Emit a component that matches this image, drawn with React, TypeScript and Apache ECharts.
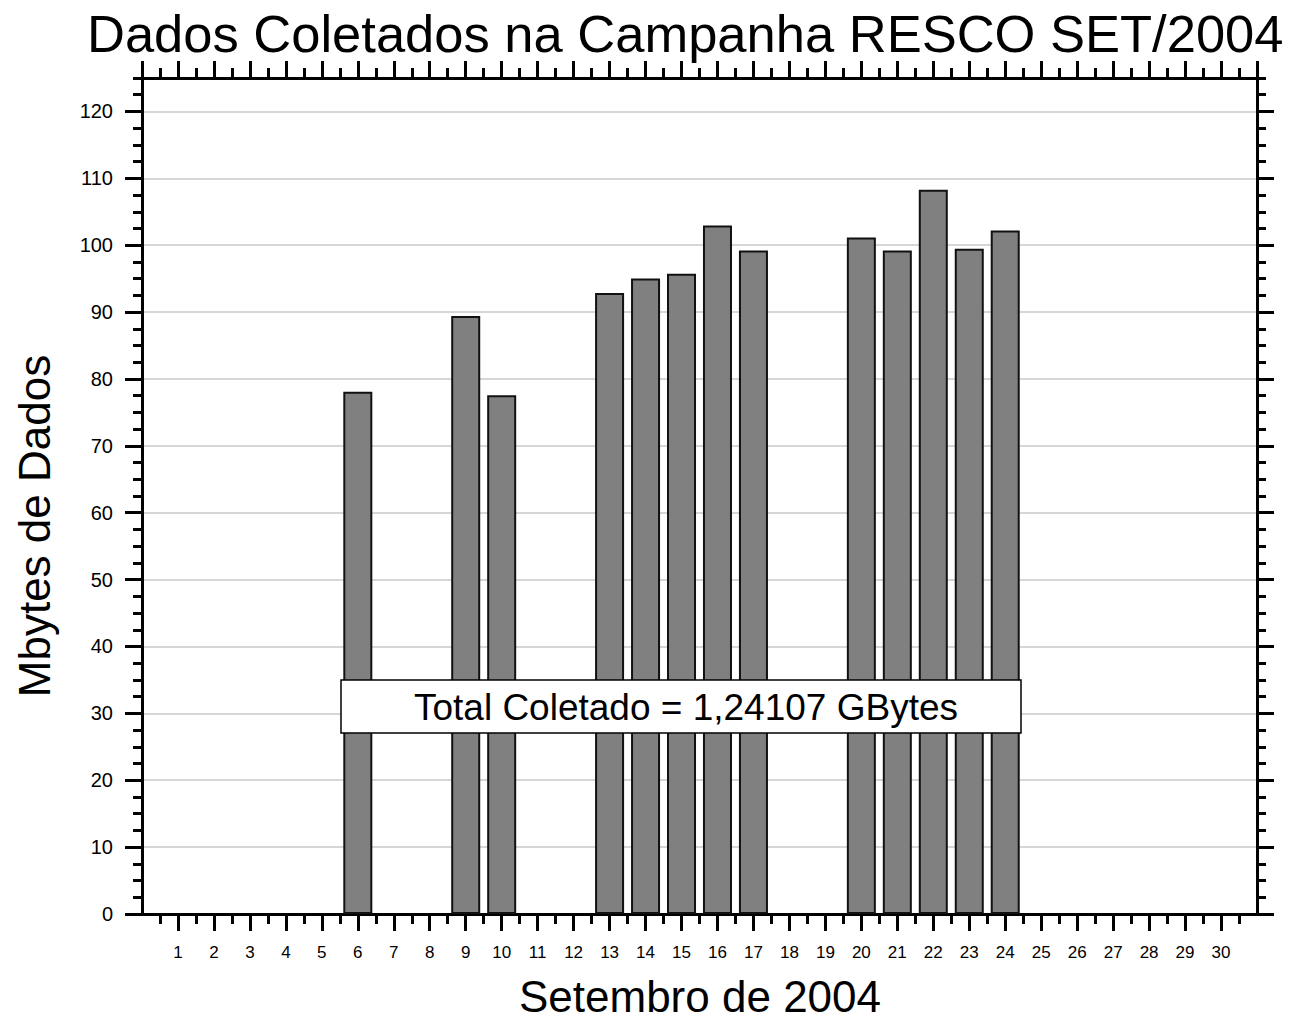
import React, { useEffect, useRef } from "react";
import * as echarts from "echarts";

const days: number[] = [6, 9, 10, 13, 14, 15, 16, 17, 20, 21, 22, 23, 24];
const mbytes: number[] = [78.1, 89.4, 77.55, 92.84, 95.03, 95.73, 102.94, 99.2, 101.14, 99.2, 108.3, 99.47, 102.18];
const xTickLabels: number[] = [1, 2, 3, 4, 5, 6, 7, 8, 9, 10, 11, 12, 13, 14, 15, 16, 17, 18, 19, 20, 21, 22, 23, 24, 25, 26, 27, 28, 29, 30];
const yTickLabels: number[] = [0, 10, 20, 30, 40, 50, 60, 70, 80, 90, 100, 110, 120];

const titleText = "Dados Coletados na Campanha RESCO SET/2004";
const xName = "Setembro de 2004";
const yName = "Mbytes de Dados";
const boxText = "Total Coletado = 1,24107 GBytes";

const FONT = "'Liberation Sans', Arial, Helvetica, sans-serif";

export default function App() {
  const ref = useRef<HTMLDivElement>(null);
  useEffect(() => {
    document.body.style.margin = "0";
    if (!ref.current) return;
    const chart = echarts.init(ref.current, undefined, { renderer: "svg" });

    const X_MIN = 0, X_MAX = 31, Y_MIN = 0, Y_MAX = 125;
    const xMinor: number[] = [];
    for (let i = 0; i < 31; i++) xMinor.push(i + 0.5);
    const topMajor: number[] = [];
    for (let i = 0; i <= 31; i++) topMajor.push(i);
    const yMinor: number[] = [];
    for (let i = 0; i <= 50; i++) yMinor.push(i * 2.5);

    const lineStyle = { color: "#000", width: 3 };
    const baseX = (extra: any) => ({
      type: "value",
      min: X_MIN,
      max: X_MAX,
      splitLine: { show: false },
      ...extra,
    });
    const baseY = (extra: any) => ({
      type: "value",
      min: Y_MIN,
      max: Y_MAX,
      splitLine: { show: false },
      ...extra,
    });

    const option: any = {
      animation: false,
      backgroundColor: "#fff",
      textStyle: { fontFamily: FONT },
      grid: { left: 142, right: 32, top: 78, bottom: 107, containLabel: false },
      xAxis: [
        baseX({
          position: "bottom",
          axisLine: { show: true, onZero: false, lineStyle },
          axisTick: { show: true, customValues: xTickLabels, length: 17, inside: false, lineStyle },
          axisLabel: { show: true, customValues: xTickLabels, fontSize: 17, color: "#000", margin: 30, fontFamily: FONT },
        }),
        baseX({
          position: "bottom",
          axisLine: { show: false, onZero: false },
          axisTick: { show: true, customValues: xMinor, length: 10, lineStyle },
          axisLabel: { show: false },
        }),
        baseX({
          position: "top",
          axisLine: { show: true, onZero: false, lineStyle },
          axisTick: { show: true, customValues: topMajor, length: 17, lineStyle },
          axisLabel: { show: false },
        }),
        baseX({
          position: "top",
          axisLine: { show: false, onZero: false },
          axisTick: { show: true, customValues: xMinor, length: 10, lineStyle },
          axisLabel: { show: false },
        }),
      ],
      yAxis: [
        baseY({
          position: "left",
          interval: 10,
          axisLine: { show: true, onZero: false, lineStyle },
          axisTick: { show: true, customValues: yTickLabels, length: 17, lineStyle },
          axisLabel: { show: true, customValues: yTickLabels, fontSize: 20, color: "#000", margin: 29, fontFamily: FONT },
          splitLine: { show: true, lineStyle: { color: "#c8c8c8", width: 1.5 } },
        }),
        baseY({
          position: "left",
          axisLine: { show: false, onZero: false },
          axisTick: { show: true, customValues: yMinor, length: 9, lineStyle },
          axisLabel: { show: false },
        }),
        baseY({
          position: "right",
          axisLine: { show: true, onZero: false, lineStyle },
          axisTick: { show: true, customValues: yTickLabels, length: 17, lineStyle },
          axisLabel: { show: false },
        }),
        baseY({
          position: "right",
          axisLine: { show: false, onZero: false },
          axisTick: { show: true, customValues: yMinor, length: 9, lineStyle },
          axisLabel: { show: false },
        }),
      ],
      series: [
        {
          type: "bar",
          xAxisIndex: 0,
          yAxisIndex: 0,
          barWidth: 29,
          data: days.map((d, i) => [d, mbytes[i]]),
          itemStyle: { color: "#808080", borderColor: "#111", borderWidth: 2 },
          z: 2,
        },
      ],
      graphic: [
        {
          type: "text",
          z: 100,
          x: 87,
          y: 33,
          style: { text: titleText, fill: "#000", font: `52.5px ${FONT}`, textAlign: "left", textVerticalAlign: "middle" },
        },
        {
          type: "text",
          z: 100,
          x: 700,
          y: 996,
          style: { text: xName, fill: "#000", font: `44px ${FONT}`, textAlign: "center", textVerticalAlign: "middle" },
        },
        {
          type: "text",
          z: 100,
          x: 34,
          y: 526,
          rotation: Math.PI / 2,
          style: { text: yName, fill: "#000", font: `44px ${FONT}`, textAlign: "center", textVerticalAlign: "middle" },
        },
        {
          type: "rect",
          z: 100,
          shape: { x: 341, y: 680, width: 680, height: 53 },
          style: { fill: "#fff", stroke: "#000", lineWidth: 1.5 },
        },
        {
          type: "text",
          z: 101,
          x: 686,
          y: 707,
          style: { text: boxText, fill: "#000", font: `37px ${FONT}`, textAlign: "center", textVerticalAlign: "middle" },
        },
      ],
    };
    chart.setOption(option);
    return () => chart.dispose();
  }, []);
  return <div ref={ref} style={{ width: 1289, height: 1021 }} />;
}
